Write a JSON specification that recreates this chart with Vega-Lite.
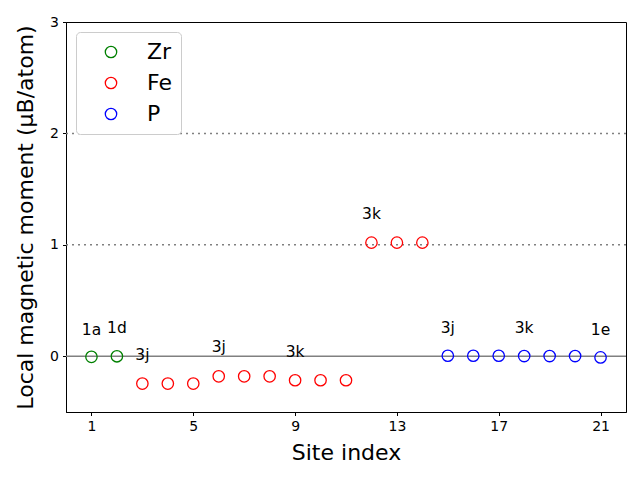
{
  "$schema": "https://vega.github.io/schema/vega-lite/v6.json",
  "autosize": "none",
  "width": 560,
  "height": 390,
  "padding": {"left": 66, "top": 22, "right": 14, "bottom": 68},
  "background": "white",
  "config": {
    "font": "DejaVu Sans",
    "view": {"stroke": "black", "strokeWidth": 1},
    "axis": {
      "domainColor": "black",
      "tickColor": "black",
      "tickSize": 3.5,
      "labelFontSize": 14,
      "labelColor": "black",
      "titleFontSize": 22,
      "titleFontWeight": "normal",
      "titleColor": "black",
      "grid": false,
      "labelPadding": 4
    }
  },
  "datasets": {
    "sites": [
      {"site": 1, "moment": -0.005, "element": "Zr"},
      {"site": 2, "moment": 0.0, "element": "Zr"},
      {"site": 3, "moment": -0.245, "element": "Fe"},
      {"site": 4, "moment": -0.245, "element": "Fe"},
      {"site": 5, "moment": -0.245, "element": "Fe"},
      {"site": 6, "moment": -0.18, "element": "Fe"},
      {"site": 7, "moment": -0.18, "element": "Fe"},
      {"site": 8, "moment": -0.18, "element": "Fe"},
      {"site": 9, "moment": -0.215, "element": "Fe"},
      {"site": 10, "moment": -0.215, "element": "Fe"},
      {"site": 11, "moment": -0.215, "element": "Fe"},
      {"site": 12, "moment": 1.02, "element": "Fe"},
      {"site": 13, "moment": 1.02, "element": "Fe"},
      {"site": 14, "moment": 1.02, "element": "Fe"},
      {"site": 15, "moment": 0.005, "element": "P"},
      {"site": 16, "moment": 0.005, "element": "P"},
      {"site": 17, "moment": 0.005, "element": "P"},
      {"site": 18, "moment": 0.002, "element": "P"},
      {"site": 19, "moment": 0.002, "element": "P"},
      {"site": 20, "moment": 0.002, "element": "P"},
      {"site": 21, "moment": -0.01, "element": "P"}
    ],
    "labels": [
      {"x": 1, "y": 0.24, "label": "1a"},
      {"x": 2, "y": 0.25, "label": "1d"},
      {"x": 3, "y": 0.01, "label": "3j"},
      {"x": 6, "y": 0.08, "label": "3j"},
      {"x": 9, "y": 0.04, "label": "3k"},
      {"x": 12, "y": 1.28, "label": "3k"},
      {"x": 15, "y": 0.25, "label": "3j"},
      {"x": 18, "y": 0.25, "label": "3k"},
      {"x": 21, "y": 0.24, "label": "1e"}
    ],
    "solid": [{"ref": 0}],
    "dotted": [{"ref": 1}, {"ref": 2}]
  },
  "layer": [
    {
      "data": {"name": "dotted"},
      "mark": {"type": "rule", "color": "#808080", "strokeWidth": 1.5, "strokeDash": [2, 4]},
      "encoding": {
        "y": {"field": "ref", "type": "quantitative", "scale": {"domain": [-0.5, 3], "nice": false, "zero": false}}
      }
    },
    {
      "data": {"name": "solid"},
      "mark": {"type": "rule", "color": "#808080", "strokeWidth": 1.5},
      "encoding": {
        "y": {"field": "ref", "type": "quantitative"}
      }
    },
    {
      "data": {"name": "sites"},
      "mark": {"type": "point", "shape": "circle", "filled": false, "size": 130, "strokeWidth": 1.3, "opacity": 1},
      "encoding": {
        "x": {
          "field": "site", "type": "quantitative",
          "scale": {"domain": [0, 22], "nice": false, "zero": false},
          "axis": {"values": [1, 5, 9, 13, 17, 21], "format": "d", "title": "Site index", "titlePadding": 9}
        },
        "y": {
          "field": "moment", "type": "quantitative",
          "scale": {"domain": [-0.5, 3], "nice": false, "zero": false},
          "axis": {"values": [0, 1, 2, 3], "format": "d", "title": "Local magnetic moment (μB/atom)", "titlePadding": 12}
        },
        "color": {
          "field": "element", "type": "nominal",
          "scale": {"domain": ["Zr", "Fe", "P"], "range": ["#008000", "#ff0000", "#0000ff"]},
          "legend": {
            "title": null,
            "orient": "top-left",
            "offset": 10,
            "padding": 9,
            "labelFontSize": 22,
            "labelColor": "black",
            "symbolSize": 130,
            "symbolStrokeWidth": 1.3,
            "symbolOffset": 15,
            "labelOffset": 25,
            "rowPadding": 9,
            "strokeColor": "#cccccc",
            "cornerRadius": 4,
            "fillColor": "white"
          }
        }
      }
    },
    {
      "data": {"name": "labels"},
      "mark": {"type": "text", "fontSize": 15.5, "align": "center", "baseline": "middle", "color": "black"},
      "encoding": {
        "x": {"field": "x", "type": "quantitative"},
        "y": {"field": "y", "type": "quantitative"},
        "text": {"field": "label"}
      }
    }
  ]
}
